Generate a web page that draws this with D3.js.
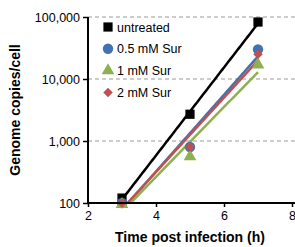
<!DOCTYPE html>
<html>
<head>
<meta charset="utf-8">
<script src="https://cdn.jsdelivr.net/npm/d3@7"></script>
<style>
  body { margin: 0; background: #fff; }
  svg { display: block; font-family: "Liberation Sans", Arial, sans-serif; }
</style>
</head>
<body>
<div id="chart"></div>
<script>
// time points (h post infection)
const hours = [3, 5, 7];

// genome copies per cell
const untreated = [120, 2700, 83000];
const sur05 = [100, 800, 30000];
const sur1 = [95, 560, 17000];
const sur2 = [100, 800, 25000];

const seriesNames = ["untreated", "0.5 mM Sur", "1 mM Sur", "2 mM Sur"];
const seriesColors = ["#000000", "#4472b0", "#8fb050", "#c0504d"];

const xTicks = [2, 4, 6, 8];
const yTicks = [100, 1000, 10000, 100000];

const width = 295, height = 247;
const margin = { left: 88, right: 4, top: 17, bottom: 44 };

const svg = d3.select("#chart").append("svg")
    .attr("width", width)
    .attr("height", height);

const x = d3.scaleLinear().domain([2, 8]).range([margin.left, 292]);
const y = d3.scaleLog().domain([100, 100000]).range([height - margin.bottom, margin.top]);

// marker shape per series; diamond is a square turned 45 degrees
const markers = [
    d3.symbol().type(d3.symbolSquare).size(85),
    d3.symbol().type(d3.symbolCircle).size(85),
    d3.symbol().type(d3.symbolTriangle).size(70),
    d3.symbol().type(d3.symbolSquare).size(45)
];
const markerRot = [0, 0, 0, 45];

// dashed gridlines
svg.append("g")
    .selectAll("line")
    .data(yTicks.slice(1))
    .join("line")
      .attr("x1", x(2))
      .attr("x2", width)
      .attr("y1", d => y(d))
      .attr("y2", d => y(d))
      .attr("stroke", "#999")
      .attr("stroke-width", 1)
      .attr("stroke-dasharray", "4,3");

// exponential trendline, least squares on log10 values
function fit(vals) {
    const ly = vals.map(v => Math.log10(v));
    const mx = d3.mean(hours), my = d3.mean(ly);
    const num = d3.sum(hours, (h, i) => (h - mx) * (ly[i] - my));
    const den = d3.sum(hours, h => (h - mx) * (h - mx));
    const b = num / den;
    const a = my - b * mx;
    return h => Math.pow(10, a + b * h);
}

const allSeries = [untreated, sur05, sur1, sur2];

svg.append("clipPath").attr("id", "plot")
  .append("rect")
    .attr("x", x(2))
    .attr("y", 0)
    .attr("width", width)
    .attr("height", y(100));

const lineOrder = [1, 3, 2, 0];
lineOrder.forEach(i => {
    const f = fit(allSeries[i]);
    const pts = d3.range(3, 7.001, 0.05).map(h => [h, f(h)]);
    svg.append("path")
        .attr("clip-path", "url(#plot)")
        .attr("d", d3.line().x(d => x(d[0])).y(d => y(d[1]))(pts))
        .attr("fill", "none")
        .attr("stroke", seriesColors[i])
        .attr("stroke-width", 2.5);
});

// markers
allSeries.forEach((vals, i) => {
    svg.append("g")
        .selectAll("path")
        .data(vals)
        .join("path")
          .attr("transform", (d, j) => `translate(${x(hours[j])},${y(d)}) rotate(${markerRot[i]})`)
          .attr("d", markers[i])
          .attr("fill", seriesColors[i]);
});

// axes
const yAxis = svg.append("g")
    .attr("transform", `translate(${x(2)},0)`)
    .call(d3.axisLeft(y).tickValues(yTicks).tickFormat(d3.format(",")).tickSize(5).tickPadding(3));
yAxis.select(".domain").attr("stroke-width", 2).attr("d", `M0,${y(100)}V${y(100000)}`);

const xAxis = svg.append("g")
    .attr("transform", `translate(0,${y(100)})`)
    .call(d3.axisBottom(x).tickValues(xTicks).tickFormat(d3.format("d")).tickSize(4).tickPadding(4));
xAxis.select(".domain").attr("stroke-width", 2).attr("d", `M${x(2)},0H${width}`);

svg.selectAll(".tick text").attr("font-size", 12.5).attr("fill", "#000").attr("font-family", "Liberation Sans, Arial, sans-serif");
svg.selectAll(".tick line").attr("stroke-width", 1.5);

// axis titles
svg.append("text")
    .attr("transform", `translate(20,${(y(100) + y(100000)) / 2}) rotate(-90)`)
    .attr("text-anchor", "middle")
    .attr("font-size", 14)
    .attr("font-weight", "bold")
    .text("Genome copies/cell");

svg.append("text")
    .attr("x", 190)
    .attr("y", 242)
    .attr("text-anchor", "middle")
    .attr("font-size", 14)
    .attr("font-weight", "bold")
    .text("Time post infection (h)");

// legend
const legend = svg.append("g")
    .selectAll("g")
    .data(seriesNames)
    .join("g")
      .attr("transform", (d, i) => `translate(108,${27 + i * 21.8})`);

legend.append("path")
    .attr("d", (d, i) => markers[i]())
    .attr("transform", (d, i) => `rotate(${markerRot[i]})`)
    .attr("fill", (d, i) => seriesColors[i]);

legend.append("text")
    .attr("x", 9)
    .attr("y", 4.5)
    .attr("font-size", 12.5)
    .text(d => d);
</script>
</body>
</html>
